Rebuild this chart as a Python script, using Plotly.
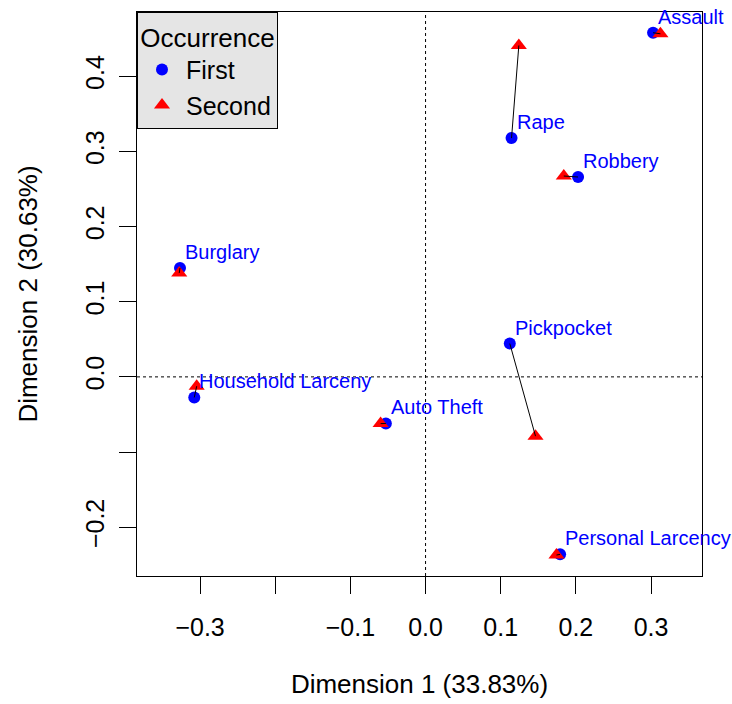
import plotly.graph_objects as go

crimes = ["Assault", "Rape", "Robbery", "Burglary", "Pickpocket",
          "Household Larceny", "Auto Theft", "Personal Larcency"]
first_x = [0.3027, 0.1144, 0.2029, -0.3267, 0.1121, -0.3077, -0.0528, 0.1790]
first_y = [0.4580, 0.3178, 0.2660, 0.1450, 0.0444, -0.0274, -0.0620, -0.2362]
second_x = [0.3125, 0.1241, 0.1839, -0.3277, 0.1463, -0.3045, -0.0598, 0.1742]
second_y = [0.4566, 0.4411, 0.2673, 0.1383, -0.0789, -0.0124, -0.0622, -0.2371]

x_ticks = [-0.3, -0.2, -0.1, 0.0, 0.1, 0.2, 0.3]
x_ticktext = ["\u22120.3", "", "\u22120.1", "0.0", "0.1", "0.2", "0.3"]
y_ticks = [-0.2, -0.1, 0.0, 0.1, 0.2, 0.3, 0.4]
y_ticktext = ["\u22120.2", "", "0.0", "0.1", "0.2", "0.3", "0.4"]

FONT = "Liberation Sans, Arial, Helvetica, sans-serif"

fig = go.Figure()
fig.add_trace(go.Scatter(x=first_x, y=first_y, mode="markers", name="First",
                         marker=dict(symbol="circle", size=12, color="#0000FF",
                                     line=dict(width=0))))
fig.add_trace(go.Scatter(x=second_x, y=second_y, mode="markers", name="Second",
                         marker=dict(symbol="triangle-up", size=14, color="#FF0000",
                                     line=dict(width=0))))

seg_x, seg_y = [], []
for a, b, c, d in zip(first_x, first_y, second_x, second_y):
    seg_x += [a, c, None]
    seg_y += [b, d, None]
fig.add_trace(go.Scatter(x=seg_x, y=seg_y, mode="lines", showlegend=False,
                         line=dict(color="black", width=1), hoverinfo="skip"))

for name, x, y in zip(crimes, first_x, first_y):
    fig.add_annotation(x=x, y=y, text=name, showarrow=False, xanchor="left",
                       yanchor="middle", xshift=3, yshift=16,
                       font=dict(family=FONT, size=20, color="#0000FF"))

fig.add_shape(type="line", xref="x", yref="y domain", x0=0, x1=0, y0=0, y1=1,
              line=dict(color="black", width=1, dash="dot"), layer="below")
fig.add_shape(type="line", xref="x domain", yref="y", x0=0, x1=1, y0=0, y1=0,
              line=dict(color="black", width=1, dash="dot"), layer="below")

axis_common = dict(showline=True, mirror=True, linecolor="black", linewidth=1,
                   ticks="outside", ticklen=17, tickcolor="black", tickwidth=1,
                   showgrid=False, zeroline=False,
                   tickfont=dict(family=FONT, size=25, color="black"))

fig.update_layout(
    width=732, height=704,
    margin=dict(l=137, r=30, t=12, b=128),
    paper_bgcolor="white", plot_bgcolor="white",
    font=dict(family=FONT, color="black"),
    showlegend=True,
    legend=dict(x=0, y=1, xanchor="left", yanchor="top", itemwidth=38,
                entrywidth=148, entrywidthmode="pixels",
                bgcolor="#E5E5E5", bordercolor="black", borderwidth=1,
                font=dict(family=FONT, size=25, color="black"),
                title=dict(text="Occurrence", side="top center",
                           font=dict(family=FONT, size=26, color="black"))),
    xaxis=dict(range=[-0.3839, 0.3678], tickvals=x_ticks, ticktext=x_ticktext,
               title=dict(text="Dimension 1 (33.83%)", standoff=34,
                          font=dict(family=FONT, size=26)),
               ticklabelstandoff=12, automargin=False, **axis_common),
    yaxis=dict(range=[-0.265, 0.4856], tickvals=y_ticks, ticktext=y_ticktext,
               tickangle=-90,
               title=dict(text="Dimension 2 (30.63%)", standoff=35,
                          font=dict(family=FONT, size=26)),
               ticklabelstandoff=5, automargin=False, **axis_common),
)

fig.write_html("out.html")
